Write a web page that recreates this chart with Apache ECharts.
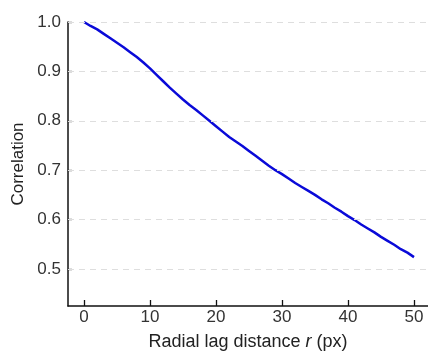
<!DOCTYPE html>
<html>
<head>
<meta charset="utf-8">
<script src="https://cdn.jsdelivr.net/npm/echarts@6/dist/echarts.min.js"></script>
<style>html,body{margin:0;padding:0;background:#fff;}#c{width:428px;height:356px;}</style>
</head>
<body>
<div id="c"></div>
<script>
const lagDistance = [0,1,2,3,4,5,6,7,8,9,10,11,12,13,14,15,16,17,18,19,20,21,22,23,24,25,26,27,28,29,30,31,32,33,34,35,36,37,38,39,40,41,42,43,44,45,46,47,48,49,50];
const correlation = [1.000,0.992,0.985,0.976,0.967,0.958,0.949,0.939,0.929,0.918,0.906,0.893,0.880,0.867,0.855,0.843,0.832,0.822,0.811,0.800,0.789,0.778,0.767,0.758,0.749,0.739,0.729,0.719,0.709,0.700,0.692,0.683,0.674,0.666,0.658,0.650,0.641,0.633,0.624,0.616,0.607,0.599,0.590,0.582,0.574,0.565,0.557,0.549,0.540,0.533,0.524];
const xTicks = [0,10,20,30,40,50];
const yTicks = [0.5,0.6,0.7,0.8,0.9,1.0];

const chart = echarts.init(document.getElementById('c'));
const font = 'Liberation Sans, Arial, sans-serif';
chart.setOption({
  animation: false,
  grid: { left: 68, top: 22, right: 0, bottom: 46.5, containLabel: false },
  xAxis: {
    type: 'value', min: -2.42, max: 52.12,
    name: 'Radial lag distance {i|r} (px)',
    nameLocation: 'middle', nameGap: 27,
    nameTextStyle: { fontFamily: font, fontSize: 18, color: '#222',
      rich: { i: { fontStyle: 'italic', fontFamily: font, fontSize: 18, color: '#222' } } },
    axisLine: { onZero: false, lineStyle: { color: '#111', width: 1.5 } },
    axisTick: { inside: true, length: 6, customValues: xTicks, lineStyle: { color: '#111', width: 1.3 } },
    axisLabel: { customValues: xTicks, fontFamily: font, fontSize: 17, color: '#333', margin: 3 },
    splitLine: { show: false }
  },
  yAxis: {
    type: 'value', min: 0.425, max: 1.0,
    name: 'Correlation', nameLocation: 'middle', nameGap: 41,
    nameTextStyle: { fontFamily: font, fontSize: 17, color: '#222' },
    axisLine: { show: true, onZero: false, lineStyle: { color: '#111', width: 1.5 } },
    axisTick: { show: true, inside: true, length: 4, customValues: yTicks, lineStyle: { color: '#111', width: 1.3 } },
    axisLabel: { customValues: yTicks, fontFamily: font, fontSize: 17, color: '#333', margin: 7,
      formatter: v => v.toFixed(1) },
    splitLine: { show: false }
  },
  series: [{
    type: 'line',
    data: lagDistance.map((x, i) => [x, correlation[i]]),
    showSymbol: false,
    lineStyle: { color: '#0a0ad8', width: 2.5 },
    markLine: {
      silent: true, symbol: 'none', label: { show: false },
      lineStyle: { type: [6, 5], color: '#dedede', width: 1 },
      data: yTicks.map(v => ({ yAxis: v }))
    },
    z: 3
  }]
});
</script>
</body>
</html>
